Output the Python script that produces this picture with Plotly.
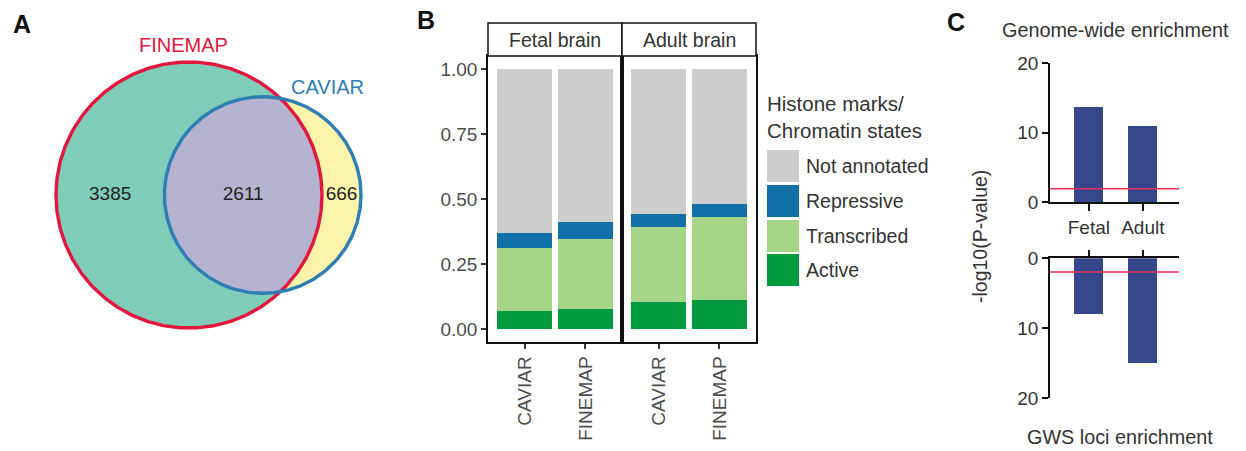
import numpy as np
import plotly.graph_objects as go

W, H = 1246, 451

# ---------------- Data ----------------
# Panel A: Venn counts
venn_names = ["FINEMAP", "CAVIAR"]
finemap_only = 3385
shared = 2611
caviar_only = 666

# Panel B: proportions of credible-set variants by chromatin state
methods = ["CAVIAR", "FINEMAP"]
tissues = ["Fetal brain", "Adult brain"]
states = ["Active", "Transcribed", "Repressive", "Not annotated"]
state_colors = ["#009B3F", "#A6D587", "#1270A8", "#CDCDCB"]
fetal_active = [0.071, 0.077]
fetal_transcribed = [0.241, 0.269]
fetal_repressive = [0.056, 0.064]
fetal_not_annotated = [0.632, 0.590]
adult_active = [0.102, 0.112]
adult_transcribed = [0.292, 0.318]
adult_repressive = [0.049, 0.050]
adult_not_annotated = [0.557, 0.520]

# Panel C: enrichment -log10(P)
groups = ["Fetal", "Adult"]
genome_wide = [13.7, 11.0]
gws_loci = [8.0, 14.9]
threshold = 1.95

FONT = "Liberation Sans, Arial, sans-serif"
TXT = "#333333"
TICK = "#4D4D4D"


def px(x):
    return x / W


def py(y):
    return 1 - y / H


fig = go.Figure()

# ---------------- Panel A: area-proportional Venn ----------------
r1 = np.sqrt((finemap_only + shared) / np.pi)
r2 = np.sqrt((caviar_only + shared) / np.pi)


def lens_area(d):
    d1 = (d * d + r1 * r1 - r2 * r2) / (2 * d)
    d2 = d - d1
    a = r1 * r1 * np.arccos(np.clip(d1 / r1, -1, 1)) - d1 * np.sqrt(max(r1 * r1 - d1 * d1, 0))
    b = r2 * r2 * np.arccos(np.clip(d2 / r2, -1, 1)) - d2 * np.sqrt(max(r2 * r2 - d2 * d2, 0))
    return a + b


lo, hi = abs(r1 - r2) + 1e-9, r1 + r2 - 1e-9
for _ in range(200):
    mid = (lo + hi) / 2
    if lens_area(mid) > shared:
        lo = mid
    else:
        hi = mid
d = (lo + hi) / 2

t = np.linspace(0, 2 * np.pi, 500)
c1x, c1y = r1 * np.cos(t), r1 * np.sin(t)
c2x, c2y = d + r2 * np.cos(t), r2 * np.sin(t)

x0 = (d * d + r1 * r1 - r2 * r2) / (2 * d)
y0 = np.sqrt(r1 * r1 - x0 * x0)
a1 = np.arctan2(y0, x0)
th2 = np.arctan2(y0, x0 - d)
arc1 = np.linspace(-a1, a1, 200)
arc2 = np.linspace(th2, 2 * np.pi - th2, 200)
lens_x = np.concatenate([r1 * np.cos(arc1), d + r2 * np.cos(arc2)])
lens_y = np.concatenate([r1 * np.sin(arc1), r2 * np.sin(arc2)])

venn_fill = dict(mode="lines", line=dict(width=0), fill="toself", hoverinfo="skip",
                 showlegend=False, xaxis="x", yaxis="y")
fig.add_trace(go.Scatter(x=c1x, y=c1y, fillcolor="#7FCDB8", **venn_fill))
fig.add_trace(go.Scatter(x=c2x, y=c2y, fillcolor="#FBF4AA", **venn_fill))
fig.add_trace(go.Scatter(x=lens_x, y=lens_y, fillcolor="#B5B3CF", **venn_fill))
fig.add_trace(go.Scatter(x=c1x, y=c1y, mode="lines", line=dict(color="#E2173D", width=3.4),
                         hoverinfo="skip", showlegend=False, xaxis="x", yaxis="y"))
fig.add_trace(go.Scatter(x=c2x, y=c2y, mode="lines", line=dict(color="#2E7DB5", width=3.4),
                         hoverinfo="skip", showlegend=False, xaxis="x", yaxis="y"))

region_x = [(-r1 + d - r2) / 2, (d - r2 + r1) / 2, (r1 + d + r2) / 2]
region_counts = [finemap_only, shared, caviar_only]
fig.add_trace(go.Scatter(x=region_x, y=[0, 0, 0], mode="text", text=[str(c) for c in region_counts],
                         textfont=dict(size=19, color="#222222", family=FONT), textposition="middle center",
                         hoverinfo="skip", showlegend=False, xaxis="x", yaxis="y"))

K = 133 / r1          # pixels per data unit
CX, CY = 189, 195     # pixel position of FINEMAP centre
A_W = 420

# ---------------- Panel B: stacked bars ----------------
fetal_vals = [fetal_active, fetal_transcribed, fetal_repressive, fetal_not_annotated]
adult_vals = [adult_active, adult_transcribed, adult_repressive, adult_not_annotated]
for xa, ya, vals in [("x2", "y2", fetal_vals), ("x3", "y3", adult_vals)]:
    for s, c, v in zip(states, state_colors, vals):
        fig.add_trace(go.Bar(x=methods, y=v, name=s, marker=dict(color=c, line=dict(width=0)),
                             width=0.9, showlegend=False, xaxis=xa, yaxis=ya))

# ---------------- Panel C ----------------
fig.add_trace(go.Bar(x=groups, y=genome_wide, marker=dict(color="#36478B", line=dict(width=0)),
                     width=0.54, showlegend=False, xaxis="x4", yaxis="y4"))
fig.add_trace(go.Bar(x=groups, y=gws_loci, marker=dict(color="#36478B", line=dict(width=0)),
                     width=0.54, showlegend=False, xaxis="x5", yaxis="y5"))

hidden = dict(visible=False, showgrid=False, zeroline=False)
tickfont = dict(size=19, color=TICK, family=FONT)
frame = dict(showline=True, linecolor="#111111", linewidth=1.5, mirror=True,
             showgrid=False, zeroline=False)
caxis = dict(showline=True, linecolor="#111111", linewidth=1.5, showgrid=False, zeroline=False,
             ticks="outside", tickcolor="#111111", tickwidth=1.5,
             tickfont=dict(size=19, color=TXT, family=FONT))

fig.update_layout(
    width=W, height=H, autosize=False,
    margin=dict(l=0, r=0, t=0, b=0, pad=0, autoexpand=False),
    paper_bgcolor="white", plot_bgcolor="white",
    barmode="stack",
    font=dict(family=FONT, color=TXT),
    xaxis=dict(domain=[0, px(A_W)], range=[(0 - CX) / K, (A_W - CX) / K], anchor="y", **hidden),
    yaxis=dict(domain=[0, 1], range=[(CY - H) / K, CY / K], anchor="x", **hidden),
    xaxis2=dict(domain=[px(488), px(622)], anchor="y2", type="category", range=[-0.6, 1.6],
                ticks="outside", ticklen=5, tickcolor="#333333", tickwidth=1.5, tickangle=-90,
                tickfont=tickfont, **frame),
    yaxis2=dict(domain=[py(342), py(56)], anchor="x2", range=[-0.05, 1.05],
                tickvals=[0, 0.25, 0.5, 0.75, 1.0], ticktext=["0.00", "0.25", "0.50", "0.75", "1.00"],
                ticks="outside", ticklen=5, tickcolor="#333333", tickwidth=1.5, tickfont=tickfont, **frame),
    xaxis3=dict(domain=[px(622), px(756)], anchor="y3", type="category", range=[-0.6, 1.6],
                ticks="outside", ticklen=5, tickcolor="#333333", tickwidth=1.5, tickangle=-90,
                tickfont=tickfont, **frame),
    yaxis3=dict(domain=[py(342), py(56)], anchor="x3", range=[-0.05, 1.05], showticklabels=False,
                ticks="", **frame),
    xaxis4=dict(domain=[px(1050), px(1179)], anchor="y4", type="category", range=[-0.72, 1.67],
                ticklen=7, **caxis),
    yaxis4=dict(domain=[py(202.3), py(63.3)], anchor="x4", range=[0, 20], tickvals=[0, 10, 20],
                ticklen=6, **caxis),
    xaxis5=dict(domain=[px(1050), px(1179)], anchor="y5", type="category", range=[-0.72, 1.67],
                side="top", showticklabels=False, ticklen=7, **caxis),
    yaxis5=dict(domain=[py(398.3), py(258.3)], anchor="x5", range=[20, 0], tickvals=[0, 10, 20],
                ticklen=6, **caxis),
)

shapes = []
annotations = []


def note(text, x, y, size, color=TXT, xanchor="center", **kw):
    annotations.append(dict(text=text, xref="paper", yref="paper", x=px(x), y=py(y),
                            xanchor=xanchor, yanchor="middle", showarrow=False,
                            font=dict(size=size, color=color, family=FONT), **kw))


# strips for facets
for (x_0, x_1), lab in zip([(488, 622), (622, 756)], tissues):
    shapes.append(dict(type="rect", xref="paper", yref="paper", x0=px(x_0), x1=px(x_1),
                       y0=py(56), y1=py(23), line=dict(color="#111111", width=1.5), fillcolor="white"))
    note(lab, (x_0 + x_1) / 2, 40, 19.5)

# manual legend for panel B
note("Histone marks/<br>Chromatin states", 765, 117, 20.5, xanchor="left", align="left")
legend_rows = [(150, 182), (185, 217), (220, 252), (254, 286)]
for (ya, yb), s in zip(legend_rows, list(reversed(states))):
    col = state_colors[states.index(s)]
    shapes.append(dict(type="rect", xref="paper", yref="paper", x0=px(767), x1=px(799),
                       y0=py(yb), y1=py(ya), line=dict(width=0), fillcolor=col))
    note(s, 804, (ya + yb) / 2, 19.5, xanchor="left")

# threshold lines in panel C
for xa, ya in [("x4", "y4"), ("x5", "y5")]:
    shapes.append(dict(type="line", xref=f"{xa} domain", yref=ya, x0=0, x1=1, y0=threshold, y1=threshold,
                       line=dict(color="#EE2D5A", width=1.6)))

# Venn labels
note("FINEMAP", 183, 45, 20, color="#E2173D")
note("CAVIAR", 327, 87, 20, color="#2E7DB5")

# panel C titles
note("Genome-wide enrichment", 1115, 30, 19.8)
note("GWS loci enrichment", 1120, 437, 19.8)
note("-log10(P-value)", 980, 237, 19.5, textangle=-90)

# panel letters
for lab, (lx, ly) in zip(["A", "B", "C"], [(22, 24), (426, 20), (956, 22)]):
    note(f"<b>{lab}</b>", lx, ly, 25, color="#111111")

fig.update_layout(shapes=shapes, annotations=annotations)

fig.write_html("out.html", config={"displayModeBar": False},
               post_script="document.body.style.margin='0px';")
